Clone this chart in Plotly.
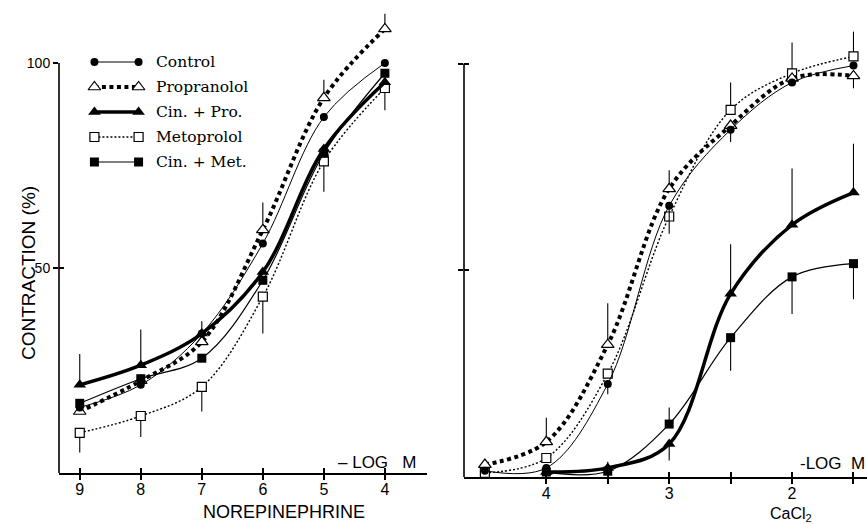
import plotly.graph_objects as go

# ---------------- data ----------------
series_names = ["Control", "Propranolol", "Cin. + Pro.", "Metoprolol", "Cin. + Met."]

# Left panel: norepinephrine (-log M)
ne_x = [9, 8, 7, 6, 5, 4]
ne_control = [16.0, 21.5, 34.0, 56.0, 86.8, 100.0]
ne_propranolol = [15.0, 22.5, 32.0, 59.3, 91.5, 108.3]
ne_cinpro = [21.5, 26.3, 34.0, 49.0, 79.0, 95.3]
ne_metoprolol = [9.8, 13.9, 21.0, 43.0, 76.0, 93.9]
ne_cinmet = [17.0, 23.0, 28.0, 47.0, 78.0, 97.5]

ne_cinpro_up = [7.5, 8.7, 3.0, 0, 0, 0]
ne_metoprolol_down = [4.8, 5.1, 6.0, 9.0, 7.4, 5.4]
ne_propranolol_up = [0, 0, 0, 6.7, 4.4, 3.7]

# Right panel: CaCl2 (-log M)
ca_x = [4.5, 4, 3.5, 3, 2.5, 2, 1.5]
ca_control = [1.5, 2.2, 22.5, 65.6, 84.0, 95.4, 99.5]
ca_propranolol = [3.0, 8.5, 32.0, 69.7, 85.0, 96.4, 97.0]
ca_metoprolol = [1.0, 4.6, 25.0, 63.0, 88.8, 97.6, 101.7]
ca_cin_x = [4, 3.5, 3, 2.5, 2, 1.5]
ca_cinpro = [1.2, 2.2, 8.0, 44.3, 61.0, 68.8]
ca_cinmet = [1.2, 1.4, 12.8, 33.7, 48.4, 51.6]

ca_control_down = [0, 0, 2.5, 6.8, 3.0, 0, 0]
ca_propranolol_up = [0, 5.8, 10.0, 4.5, 0, 0, 0]
ca_propranolol_down = [0, 0, 0, 0, 0, 0, 3.0]
ca_metoprolol_up = [0, 0, 0, 0, 6.6, 7.5, 6.0]
ca_cinpro_up = [0, 1.5, 0, 12.0, 13.6, 11.8]
ca_cinpro_down = [0, 0, 4.0, 0, 0, 0]
ca_cinmet_up = [0, 0, 4.0, 0, 0, 0]
ca_cinmet_down = [0, 0, 0, 8.0, 9.0, 8.6]

ne_ticks = [9, 8, 7, 6, 5, 4]
ca_ticks = [4, 3, 2]
ca_minor_ticks = [3.5, 2.5, 1.5]
y_ticks = [50, 100]
y_ticktext = ["50", "100"]

# ---------------- styles ----------------
STYLES = {
    "Control": dict(line=dict(color="black", width=1.0),
                    marker=dict(symbol="circle", size=8, color="black")),
    "Propranolol": dict(line=dict(color="black", width=4, dash="4px,3.5px"),
                        marker=dict(symbol="triangle-up", size=11, color="white",
                                    line=dict(color="black", width=1.2))),
    "Cin. + Pro.": dict(line=dict(color="black", width=3.5),
                        marker=dict(symbol="triangle-up", size=11, color="black")),
    "Metoprolol": dict(line=dict(color="black", width=1.4, dash="2px,2px"),
                       marker=dict(symbol="square", size=9, color="white",
                                   line=dict(color="black", width=1.2))),
    "Cin. + Met.": dict(line=dict(color="black", width=1.2),
                        marker=dict(symbol="square", size=9, color="black")),
}

def err(up=None, down=None, n=6):
    up = up if up is not None else [0] * n
    down = down if down is not None else [0] * n
    return dict(type="data", symmetric=False, array=up, arrayminus=down,
                width=0, thickness=1.1, color="black")

fig = go.Figure()

def add(name, x, y, xa, ya, e=None):
    st = STYLES[name]
    fig.add_trace(go.Scatter(
        x=x, y=y, mode="lines+markers", name=name,
        line=dict(shape="spline", smoothing=1.0, **st["line"]),
        marker=st["marker"], error_y=e, xaxis=xa, yaxis=ya,
        showlegend=False, cliponaxis=False))

# left panel
add("Metoprolol", ne_x, ne_metoprolol, "x", "y", err(down=ne_metoprolol_down))
add("Propranolol", ne_x, ne_propranolol, "x", "y", err(up=ne_propranolol_up))
add("Cin. + Pro.", ne_x, ne_cinpro, "x", "y", err(up=ne_cinpro_up))
add("Cin. + Met.", ne_x, ne_cinmet, "x", "y")
add("Control", ne_x, ne_control, "x", "y")

# right panel
add("Metoprolol", ca_x, ca_metoprolol, "x2", "y2", err(up=ca_metoprolol_up, n=7))
add("Propranolol", ca_x, ca_propranolol, "x2", "y2",
    err(up=ca_propranolol_up, down=ca_propranolol_down, n=7))
add("Control", ca_x, ca_control, "x2", "y2", err(down=ca_control_down, n=7))
add("Cin. + Pro.", ca_cin_x, ca_cinpro, "x2", "y2", err(up=ca_cinpro_up, down=ca_cinpro_down))
add("Cin. + Met.", ca_cin_x, ca_cinmet, "x2", "y2", err(up=ca_cinmet_up, down=ca_cinmet_down))

# custom legend (marker - line - marker samples)
for i, name in enumerate(series_names):
    st = STYLES[name]
    fig.add_trace(go.Scatter(
        x=[0, 1], y=[i, i], mode="lines+markers", line=st["line"],
        marker=st["marker"], xaxis="x3", yaxis="y3", showlegend=False,
        cliponaxis=False, hoverinfo="skip"))

# empty traces for overlay tick axes (crossing ticks)
for xa, ya in [("x4", "y"), ("x5", "y2"), ("x", "y4"), ("x2", "y5")]:
    fig.add_trace(go.Scatter(x=[], y=[], xaxis=xa, yaxis=ya, showlegend=False))

# ---------------- layout ----------------
W, H = 867, 524
ML, MR, MT, MB = 59, 0, 10, 47
PW, PH = W - ML - MR, H - MT - MB

def px(xp):
    return (xp - ML) / PW

def py(yp):
    return (H - MB - yp) / PH

FONT = "Liberation Sans, Arial, sans-serif"
tickfont = dict(family=FONT, size=16, color="black")

left_dom = [0, px(427)]
right_dom = [px(464), 1]
left_ydom = [py(473), 1]
left_yrange = [0, (473 - MT) / 4.1]
right_yrange = [0, PH / 4.135]
left_xrange = [9.34, 3.31]
right_xrange = [4.67, 1.39]

common_x = dict(showgrid=False, zeroline=False, showline=True, linecolor="black",
                linewidth=1.6, ticks="outside", ticklen=5, tickwidth=1.5,
                tickcolor="black", tickfont=tickfont, ticklabelstandoff=-4)
common_y = dict(showgrid=False, zeroline=False, showline=False, ticks="outside",
                ticklen=5, tickwidth=1.5, tickcolor="black",
                tickfont=dict(family=FONT, size=14, color="black"))
overlay_tick = dict(ticks="inside", ticklen=5, tickwidth=1.5, tickcolor="black",
                    showticklabels=False, showgrid=False, zeroline=False,
                    showline=False)

fig.update_layout(
    width=W, height=H, paper_bgcolor="white", plot_bgcolor="white",
    margin=dict(l=ML, r=MR, t=MT, b=MB), showlegend=False,
    xaxis=dict(domain=left_dom, range=left_xrange, anchor="y",
               tickvals=ne_ticks, ticktext=[str(v) for v in ne_ticks], **common_x),
    xaxis2=dict(domain=right_dom, range=right_xrange, anchor="y2",
                tickvals=ca_ticks, ticktext=[str(v) for v in ca_ticks],
                minor=dict(tickvals=ca_minor_ticks, ticks="outside", ticklen=5,
                           tickwidth=1.5, tickcolor="black", showgrid=False),
                **common_x),
    yaxis=dict(domain=left_ydom, range=left_yrange, anchor="x",
               tickvals=y_ticks, ticktext=y_ticktext, **common_y),
    yaxis2=dict(domain=[0, 1], range=right_yrange, anchor="x2",
                tickvals=y_ticks, showticklabels=False, **common_y),
    xaxis3=dict(domain=[px(90), px(143)], range=[-0.1, 1.1], anchor="y3",
                visible=False),
    yaxis3=dict(domain=[py(174.5), py(49.5)], range=[4.5, -0.5], anchor="x3",
                visible=False),
    xaxis4=dict(overlaying="x", domain=left_dom, range=left_xrange, anchor="y",
                tickvals=ne_ticks, **overlay_tick),
    xaxis5=dict(overlaying="x2", domain=right_dom, range=right_xrange, anchor="y2",
                tickvals=ca_ticks,
                minor=dict(tickvals=ca_minor_ticks, ticks="inside", ticklen=5,
                           tickwidth=1.5, tickcolor="black", showgrid=False),
                **overlay_tick),
    yaxis4=dict(overlaying="y", domain=left_ydom, range=left_yrange, anchor="x",
                tickvals=[50], **overlay_tick),
    yaxis5=dict(overlaying="y2", domain=[0, 1], range=right_yrange, anchor="x2",
                tickvals=y_ticks, **overlay_tick),
)

# y-axis lines stopping at 100
fig.add_shape(type="line", xref="x domain", yref="y", x0=0, x1=0, y0=0, y1=100,
              line=dict(color="black", width=1.6))
fig.add_shape(type="line", xref="x2 domain", yref="y2", x0=0, x1=0, y0=0, y1=100,
              line=dict(color="black", width=1.6))

ann = []
for i, name in enumerate(series_names):
    ann.append(dict(text=name, xref="paper", yref="y3", x=px(154), y=i,
                    xanchor="left", yanchor="middle", showarrow=False,
                    font=dict(family="DejaVu Serif, serif", size=15.5, color="black")))

ann += [
    dict(text="NOREPINEPHRINE", xref="paper", yref="paper", x=px(284), y=py(512),
         xanchor="center", yanchor="middle", showarrow=False,
         font=dict(family=FONT, size=18, color="black")),
    dict(text="\u2013 LOG\u00a0\u00a0 M", xref="paper", yref="paper", x=px(418), y=py(462),
         xanchor="right", yanchor="middle", showarrow=False,
         font=dict(family=FONT, size=17, color="black")),
    dict(text="-LOG\u00a0\u00a0M", xref="paper", yref="paper", x=1.0, y=py(463),
         xanchor="right", yanchor="middle", showarrow=False,
         font=dict(family=FONT, size=17, color="black")),
    dict(text="CaCl<sub>2</sub>", xref="paper", yref="paper", x=px(791), y=py(514),
         xanchor="center", yanchor="middle", showarrow=False,
         font=dict(family=FONT, size=16, color="black")),
    dict(text="CONTRACTION (%)", xref="paper", yref="paper", x=px(28), y=py(273),
         xanchor="center", yanchor="middle", showarrow=False, textangle=-90,
         font=dict(family=FONT, size=19, color="black")),
]
fig.update_layout(annotations=ann)

fig.write_html("out.html", config={"displayModeBar": False},
               post_script="document.body.style.margin='0px';"
                           "document.body.style.overflow='hidden';")
